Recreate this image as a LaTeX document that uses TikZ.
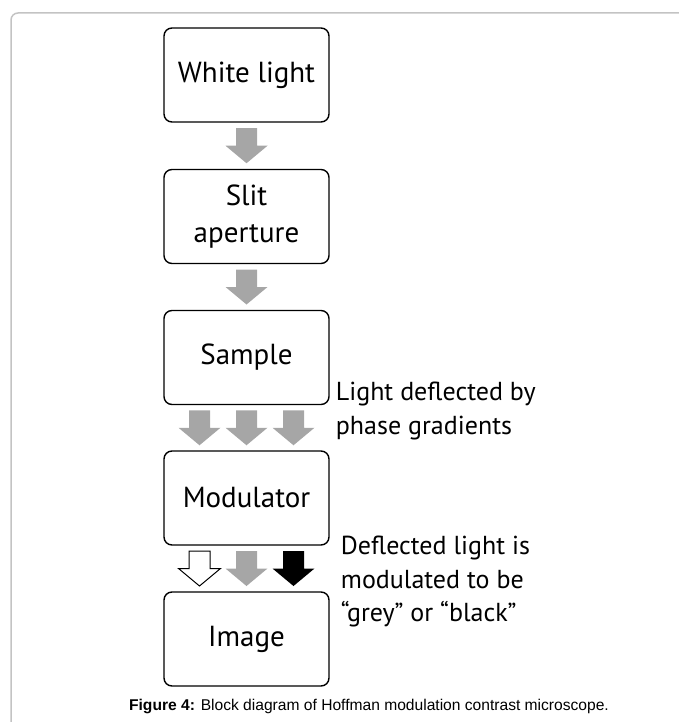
\documentclass[tikz,border=0pt]{standalone}
\usepackage{fontspec}
\setmainfont{PT Sans}
\newfontfamily\capfont{Liberation Sans}
\usetikzlibrary{positioning, calc}

\definecolor{arrowgrey}{RGB}{166,166,166}
\definecolor{framegrey}{RGB}{195,195,195}

\tikzset{
  blockarrow/.pic={
    \path[pic actions] (-10.5,-17.5) -- (10.5,-17.5) -- (10.5,0) -- (21,0)
      -- (0,17.5) -- (-21,0) -- (-10.5,0) -- cycle;
  }
}

\begin{document}
\begin{tikzpicture}[
  x=1pt, y=-1pt,
  stage/.style={draw=black, line width=1.4pt, rounded corners=8pt, align=center,
    minimum width=165pt, minimum height=94pt, inner sep=2pt,
    font=\fontsize{29}{37}\selectfont},
  note/.style={anchor=west, align=left, inner sep=0pt,
    font=\fontsize{26}{33.5}\selectfont},
  grey/.style={fill=arrowgrey, draw=none},
  hollow/.style={fill=white, draw=black, line width=1pt},
  solid/.style={fill=black, draw=none}
]
\useasboundingbox (0,0) rectangle (678,722);

% --- outer frame of the figure ---
\draw[framegrey, line width=1.5pt, rounded corners=7pt] (11,760) -- (11,13) -- (720,13);

% --- the five stages ---
\node[stage] (white)     at (246.5,75)    {White light};
\node[stage] (slit)      at (246.5,216.5) {Slit\\aperture};
\node[stage] (sample)    at (246.5,357.5) {Sample};
\node[stage] (modulator) at (246.5,498)   {Modulator};
\node[stage] (image)     at (246.5,639)   {Image};

% --- light passing down ---
\pic[grey] at ($(white.south)!.5!(slit.north)$) {blockarrow};
\pic[grey] at ($(slit.south)!.5!(sample.north)$) {blockarrow};

% deflected light
\pic[grey] at ($(sample.south)!.5!(modulator.north)+(-47,0)$) {blockarrow};
\pic[grey] at ($(sample.south)!.5!(modulator.north)$) {blockarrow};
\pic[grey] at ($(sample.south)!.5!(modulator.north)+(47,0)$) {blockarrow};

% modulated light
\pic[hollow] at ($(modulator.south)!.5!(image.north)+(-47,0)$) {blockarrow};
\pic[grey] at ($(modulator.south)!.5!(image.north)$) {blockarrow};
\pic[solid] at ($(modulator.south)!.5!(image.north)+(47,0)$) {blockarrow};

% --- side notes ---
\node[note] (deflect) at ($(sample.south east)+(6,6)$)
  {Light deflected by\\phase gradients};
\node[note] (modnote) at ($(modulator.south east)+(11,36)$)
  {Deflected light is\\modulated to be\\“grey” or “black”};

% caption
\node[font=\capfont\fontsize{15.6}{18}\selectfont] (caption) at (369,706)
  {\textbf{Figure 4:} Block diagram of Hoffman modulation contrast microscope.};

\end{tikzpicture}
\end{document}
